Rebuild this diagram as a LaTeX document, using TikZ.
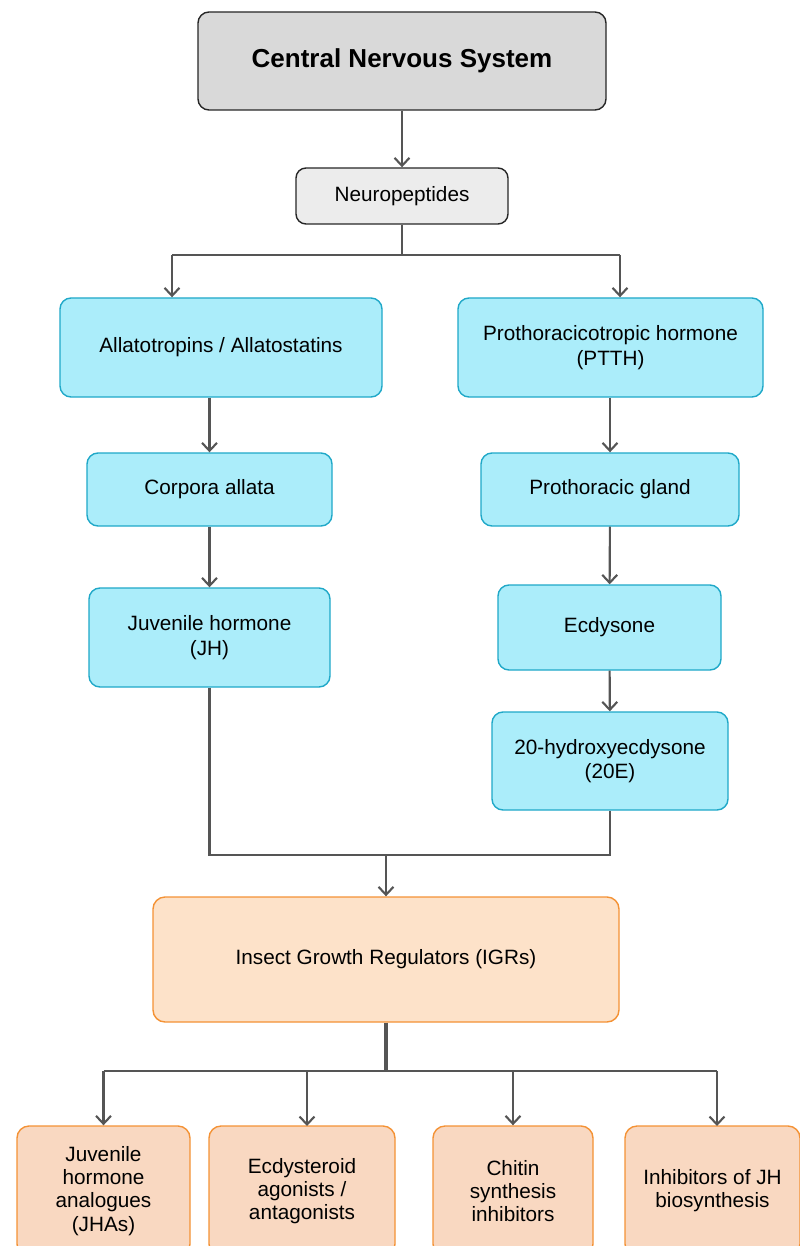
\documentclass[tikz,border=0pt]{standalone}
\usepackage{fontspec}
\setmainfont{Liberation Sans}
\usetikzlibrary{arrows.meta,calc}
\usepackage{xcolor}
\definecolor{cnsgray}{HTML}{D9D9D9}
\definecolor{peptgray}{HTML}{ECECEC}
\definecolor{cyanfill}{HTML}{ABEDFA}
\definecolor{cyandraw}{HTML}{1FA8C8}
\definecolor{igrfill}{HTML}{FDE2C9}
\definecolor{classfill}{HTML}{F9D8C1}
\definecolor{orangedraw}{HTML}{F49235}
\definecolor{linkgray}{HTML}{555555}

\begin{document}
\begin{tikzpicture}[%
    brain/.style={
      rectangle,
      draw=black!85,
      thick,
      fill=cnsgray,
      rounded corners=0.22cm,
      align=center,
      font=\fontsize{14.8}{17}\selectfont\bfseries
    },
    pept/.style={
      rectangle,
      draw=black!85,
      thick,
      fill=peptgray,
      rounded corners=0.2cm,
      align=center,
      font=\fontsize{11.8}{14}\selectfont
    },
    gland/.style={
      rectangle,
      draw=cyandraw,
      thick,
      fill=cyanfill,
      rounded corners=0.22cm,
      align=center,
      font=\fontsize{11.8}{14}\selectfont
    },
    regulator/.style={
      rectangle,
      draw=orangedraw,
      thick,
      fill=igrfill,
      rounded corners=0.24cm,
      align=center,
      font=\fontsize{11.8}{13.2}\selectfont
    },
    igrClass/.style={
      regulator,
      fill=classfill,
      minimum height=2.6cm
    },
    link/.style={
      draw=linkgray,
      line width=1.2pt
    },
    linkArrow/.style={
      link,
      -{Straight Barb[length=4.5pt,width=8.5pt]}
    }
  ]

    % Page frame
    \useasboundingbox (0,0) rectangle (16,-24.92);
    \clip (0,0) rectangle (16,-24.92);

    \draw (8.04,-1.22)   node[brain, minimum width=8.16cm, minimum height=1.96cm] (CNS) {Central Nervous System}
          (8.04,-3.92)   node[pept, minimum width=4.24cm, minimum height=1.12cm] (Pept) {Neuropeptides}
          (4.42,-6.95)   node[gland, minimum width=6.44cm, minimum height=1.98cm] (Alla) {Allatotropins / Allatostatins}
          (12.21,-6.95)  node[gland, minimum width=6.10cm, minimum height=1.98cm] (PTTH) {Prothoracicotropic hormone\\(PTTH)}
          (4.19,-9.79)   node[gland, minimum width=4.90cm, minimum height=1.46cm] (CA) {Corpora allata}
          (4.19,-12.75)  node[gland, minimum width=4.82cm, minimum height=1.98cm] (JH) {Juvenile hormone\\(JH)}
          (12.20,-9.79)  node[gland, minimum width=5.16cm, minimum height=1.46cm] (PG) {Prothoracic gland}
          (12.19,-12.55) node[gland, minimum width=4.46cm, minimum height=1.70cm] (Ecd) {Ecdysone}
          (12.20,-15.22) node[gland, minimum width=4.72cm, minimum height=1.96cm] (HE) {20-hydroxyecdysone\\(20E)}
          (7.72,-19.19)  node[regulator, minimum width=9.32cm, minimum height=2.50cm] (IGR) {Insect Growth Regulators (IGRs)}
          (2.07,-23.82)  node[igrClass, minimum width=3.46cm] (JHA) {Juvenile\\hormone\\analogues\\(JHAs)}
          (6.04,-23.82)  node[igrClass, minimum width=3.72cm] (EA) {Ecdysteroid\\agonists /\\antagonists}
          (10.26,-23.82) node[igrClass, minimum width=3.20cm] (CSI) {Chitin\\synthesis\\inhibitors}
          (14.25,-23.82) node[igrClass, minimum width=3.50cm] (IJH) {Inhibitors of JH\\biosynthesis};

    % Split points
    \coordinate (pSplit) at (Pept.south |- 0,-5.10);
    \coordinate (pLeft)  at (3.44,-5.10);
    \coordinate (pRight) at (12.40,-5.10);
    \coordinate (merge)  at (IGR.north |- 0,-17.10);
    \coordinate (iSplit) at (IGR.south |- 0,-21.42);

    % Brain to glands
    \draw[linkArrow] (CNS) -- (Pept);
    \draw[link] (Pept) -- (pSplit);
    \draw[link] (pLeft) -- (pRight);
    \draw[linkArrow] (pLeft) -- (pLeft |- Alla.north);
    \draw[linkArrow] (pRight) -- (pRight |- PTTH.north);

    % Juvenile hormone branch
    \draw[linkArrow] (CA.north |- Alla.south) -- (CA);
    \draw[linkArrow] (CA) -- (JH);

    % Ecdysone branch
    \draw[linkArrow] (PG.north |- PTTH.south) -- (PG);
    \draw[linkArrow] (PG) -- (Ecd);
    \draw[linkArrow] (Ecd) -- (HE);

    % Both to IGRs
    \draw[link] (JH) |- (merge);
    \draw[link] (HE) |- (merge);
    \draw[linkArrow] (merge) -- (IGR);

    % IGR classes
    \draw[link, line width=2pt] (IGR) -- (iSplit);
    \draw[link] (JHA.north |- iSplit) -- (14.34,-21.42);
    \draw[linkArrow] (JHA.north |- iSplit) -- (JHA);
    \draw[linkArrow] (6.14,-21.42) -- (6.14,-22.52);
    \draw[linkArrow] (CSI.north |- iSplit) -- (CSI);
    \draw[linkArrow] (14.34,-21.42) -- (14.34,-22.52);
\end{tikzpicture}
\end{document}
